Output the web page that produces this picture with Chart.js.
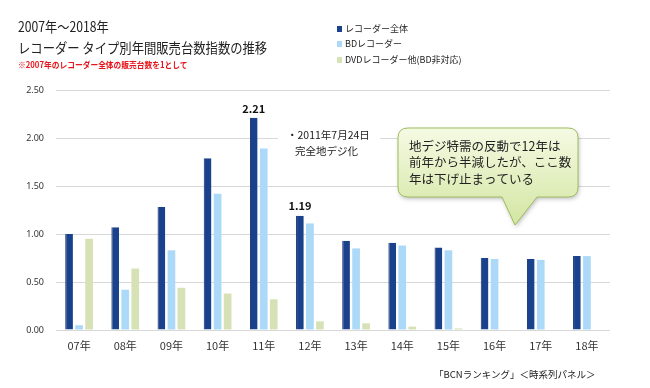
<!DOCTYPE html>
<html>
<head>
<meta charset="utf-8">
<script src="https://cdn.jsdelivr.net/npm/chart.js@4.4.1/dist/chart.umd.min.js"></script>
<style>
  html, body { margin: 0; padding: 0; background: #fff; }
  #wrap { position: relative; width: 650px; height: 388px; overflow: hidden; font-family: "Noto Sans CJK JP", "Noto Sans", sans-serif; color: #222; }
  #chart { position: absolute; left: 0; top: 0; }
  .t1 { position: absolute; left: 18px; top: 16px; font-size: 14px; line-height: 20px; white-space: nowrap; transform: scaleX(0.87); transform-origin: left center; }
  .t2 { position: absolute; left: 18px; top: 37px; font-size: 14px; line-height: 20px; white-space: nowrap; transform: scaleX(0.88); transform-origin: left center; }
  .t3 { position: absolute; left: 18px; top: 57px; font-size: 8.5px; line-height: 14px; font-weight: bold; color: #e8141b; white-space: nowrap; transform: scaleX(0.91); transform-origin: left center; }
  .lg { position: absolute; left: 337px; font-size: 9px; line-height: 14px; white-space: nowrap; }
  .lg i { display: inline-block; width: 5px; height: 6px; margin-right: 3px; }
  .foot { position: absolute; left: 434px; top: 367px; font-size: 9.5px; line-height: 14px; white-space: nowrap; }
</style>
</head>
<body>
<div id="wrap">
  <canvas id="chart" width="650" height="388"></canvas>
  <div class="t1">2007年～2018年</div>
  <div class="t2">レコーダー タイプ別年間販売台数指数の推移</div>
  <div class="t3">※2007年のレコーダー全体の販売台数を1として</div>
  <div id="legend"></div>
  <div class="foot">「BCNランキング」＜時系列パネル＞</div>
</div>
<script>
// ====== データ ======
var categories = ['07年', '08年', '09年', '10年', '11年', '12年', '13年', '14年', '15年', '16年', '17年', '18年'];
var seriesNames = ['レコーダー全体', 'BDレコーダー', 'DVDレコーダー他(BD非対応)'];
var recorderAll = [1.00, 1.07, 1.28, 1.79, 2.21, 1.19, 0.93, 0.91, 0.86, 0.75, 0.74, 0.77];
var bdRecorder = [0.05, 0.42, 0.83, 1.42, 1.89, 1.11, 0.85, 0.88, 0.83, 0.74, 0.73, 0.77];
var dvdRecorder = [0.95, 0.64, 0.44, 0.38, 0.32, 0.09, 0.07, 0.035, 0.017, 0.005, 0, 0];
var yTicks = [0, 0.5, 1.0, 1.5, 2.0, 2.5];
var labeledPoints = [4, 5]; // 値ラベルを出す年 (11年, 12年)
var calloutLines = ['地デジ特需の反動で12年は', '前年から半減したが、ここ数', '年は下げ止まっている'];
var noteLines = ['・2011年7月24日', '完全地デジ化'];

var colors = ['#1a428c', '#acd9f7', '#d6e2b6'];

// ====== 凡例 ======
var legendEl = document.getElementById('legend');
var legendTops = [22, 37, 53];
seriesNames.forEach(function(name, i) {
    var d = document.createElement('div');
    d.className = 'lg';
    d.style.top = legendTops[i] + 'px';
    d.innerHTML = '<i style="background:' + colors[i] + '"></i>' + name;
    legendEl.appendChild(d);
});

// ====== 注記プラグイン ======
var notesPlugin = {
    id: 'notes',
    beforeDatasetsDraw: function(chart) {
        var c = chart.ctx;
        c.save();
        // 2011年の注記 (白地で目盛線を隠す)
        c.fillStyle = '#fff';
        c.fillRect(278, 126, 102, 34);
        c.fillStyle = '#222';
        c.font = '10.5px "Noto Sans CJK JP"';
        c.textBaseline = 'middle';
        c.textAlign = 'left';
        c.fillText(noteLines[0], 287, 135);
        c.fillText(noteLines[1], 295, 151);
        c.restore();
    },
    afterDatasetsDraw: function(chart) {
        var c = chart.ctx;
        var meta = chart.getDatasetMeta(0);
        c.save();
        c.fillStyle = '#111';
        c.font = 'bold 11px "Noto Sans CJK JP"';
        c.textAlign = 'center';
        c.textBaseline = 'bottom';
        labeledPoints.forEach(function(i) {
            var bar = meta.data[i];
            c.fillText(recorderAll[i].toFixed(2), bar.x, bar.y - 4);
        });

        // 吹き出し
        var x0 = 398, y0 = 128, x1 = 578, y1 = 197, r = 10;
        c.beginPath();
        c.moveTo(x0 + r, y0);
        c.lineTo(x1 - r, y0);
        c.quadraticCurveTo(x1, y0, x1, y0 + r);
        c.lineTo(x1, y1 - r);
        c.quadraticCurveTo(x1, y1, x1 - r, y1);
        c.lineTo(537, y1);
        c.lineTo(515, 225);
        c.lineTo(502, y1);
        c.lineTo(x0 + r, y1);
        c.quadraticCurveTo(x0, y1, x0, y1 - r);
        c.lineTo(x0, y0 + r);
        c.quadraticCurveTo(x0, y0, x0 + r, y0);
        c.closePath();
        var g = c.createLinearGradient(0, y0, 0, 225);
        g.addColorStop(0, '#f5fae3');
        g.addColorStop(1, '#d3e6a2');
        c.shadowColor = 'rgba(0,0,0,0.25)';
        c.shadowBlur = 4;
        c.shadowOffsetX = 1;
        c.shadowOffsetY = 2;
        c.fillStyle = g;
        c.fill();
        c.shadowColor = 'transparent';
        c.strokeStyle = '#9fbc5e';
        c.lineWidth = 1;
        c.stroke();
        c.fillStyle = '#222';
        c.font = '12.5px "Noto Sans CJK JP"';
        c.textAlign = 'left';
        c.textBaseline = 'middle';
        calloutLines.forEach(function(t, k) {
            c.fillText(t, 409, 146 + k * 16.5);
        });
        c.restore();
    }
};

var ctx = document.getElementById('chart').getContext('2d');
var chart = new Chart(ctx, {
    type: 'bar',
    data: {
        labels: categories,
        datasets: [
            { label: seriesNames[0], data: recorderAll, backgroundColor: colors[0], borderColor: '#0d2b66', borderWidth: { left: 1 } },
            { label: seriesNames[1], data: bdRecorder, backgroundColor: colors[1] },
            { label: seriesNames[2], data: dvdRecorder, backgroundColor: colors[2] }
        ]
    },
    options: {
        responsive: false,
        animation: false,
        layout: { padding: { top: 90, right: 40, bottom: 0, left: 0 } },
        datasets: { bar: { categoryPercentage: 0.65, barPercentage: 0.77 } },
        plugins: { legend: { display: false }, tooltip: { enabled: false } },
        scales: {
            x: {
                grid: { display: false },
                border: { display: false },
                ticks: { color: '#333', font: { family: 'Noto Sans CJK JP', size: 11 }, padding: 1 },
                afterFit: function(s) { s.height = 58; }
            },
            y: {
                min: 0,
                max: 2.5,
                afterBuildTicks: function(s) { s.ticks = yTicks.map(function(v) { return { value: v }; }); },
                grid: { color: '#d9d9d9', drawTicks: false },
                border: { display: false },
                ticks: {
                    color: '#333',
                    padding: 12,
                    font: { family: 'Noto Sans', size: 9 },
                    callback: function(v) { return Number(v).toFixed(2); }
                },
                afterFit: function(s) { s.width = 56; }
            }
        }
    },
    plugins: [notesPlugin]
});
</script>
</body>
</html>
